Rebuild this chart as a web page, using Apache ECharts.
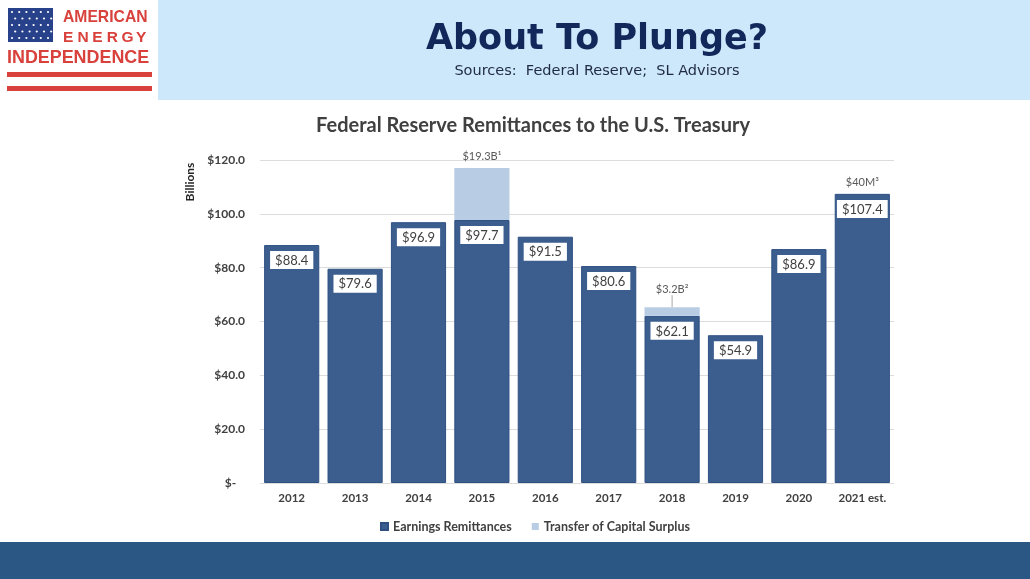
<!DOCTYPE html>
<html>
<head>
<meta charset="utf-8">
<script src="https://cdn.jsdelivr.net/npm/echarts@6/dist/echarts.min.js"></script>
<style>
html,body{margin:0;padding:0;background:#fff;}
#chart{width:1030px;height:579px;}
</style>
</head>
<body>
<div id="chart"></div>
<script>
const categories = ['2012','2013','2014','2015','2016','2017','2018','2019','2020','2021 est.'];
const earnings = [88.4, 79.6, 96.9, 97.7, 91.5, 80.6, 62.1, 54.9, 86.9, 107.4];
const transfer = [null, null, null, 19.3, null, null, 3.2, null, null, 0.04];
const transferLabels = ['', '', '', '$19.3B\u00B9', '', '', '$3.2B\u00B2', '', '', '$40M\u00B3'];
const yTicks = [0, 20, 40, 60, 80, 100, 120];

const chart = echarts.init(document.getElementById('chart'), null, {renderer: 'canvas'});

const red = '#d8413c';
const graphics = [
  {type: 'rect', shape: {x: 158, y: 0, width: 872, height: 100}, style: {fill: '#cde7fb'}, silent: true},
  {type: 'rect', shape: {x: 0, y: 542, width: 1030, height: 37}, style: {fill: '#2b5784'}, silent: true},
  {type: 'rect', shape: {x: 8, y: 8, width: 45, height: 34}, style: {fill: '#27418a'}, silent: true},
  {type: 'rect', shape: {x: 7, y: 72, width: 145, height: 5}, style: {fill: red}, silent: true},
  {type: 'rect', shape: {x: 7, y: 86, width: 145, height: 5}, style: {fill: red}, silent: true},
  {type: 'text', x: 63, y: 18, style: {text: 'AMERICAN', fill: red, font: 'bold 15.7px "Liberation Sans"', textAlign: 'left', textVerticalAlign: 'middle'}, silent: true},
  {type: 'text', x: 7, y: 58, style: {text: 'INDEPENDENCE', fill: red, font: 'bold 17.9px "Liberation Sans"', textAlign: 'left', textVerticalAlign: 'middle'}, silent: true},
  {type: 'text', x: 597, y: 40, style: {text: 'About To Plunge?', fill: '#13285a', font: 'bold 35px "DejaVu Sans"', textAlign: 'center', textVerticalAlign: 'middle'}, silent: true},
  {type: 'text', x: 597, y: 71, style: {text: 'Sources:  Federal Reserve;  SL Advisors', fill: '#1f2a44', font: '14.5px "DejaVu Sans"', textAlign: 'center', textVerticalAlign: 'middle'}, silent: true},
  {type: 'text', x: 533, y: 126, style: {text: 'Federal Reserve Remittances to the U.S. Treasury', fill: '#404040', font: 'bold 20px Lato', textAlign: 'center', textVerticalAlign: 'middle'}, silent: true},
  {type: 'text', x: 190, y: 182, rotation: Math.PI / 2, style: {text: 'Billions', fill: '#262626', font: 'bold 12px Lato', textAlign: 'center', textVerticalAlign: 'middle'}, silent: true}
];
// logo letters of "ENERGY", spaced out (decoration)
'ENERGY'.split('').forEach((ch, i) => {
  graphics.push({type: 'text', x: 63 + i * 14.6, y: 38, style: {text: ch, fill: red, font: 'bold 15.5px "Liberation Sans"', textAlign: 'left', textVerticalAlign: 'middle'}, silent: true});
});
// flag stars (decoration)
for (let r = 0; r < 5; r++) {
  for (let c = 0; c < 6; c++) {
    graphics.push({type: 'circle', shape: {cx: 12 + c * 7.2 + (r % 2) * 3.2, cy: 12 + r * 6.5, r: 1.1}, style: {fill: '#ffffff'}, silent: true});
  }
}

const transferData = transfer.map((v, i) => (i === 6 ? {value: v, labelLine: {show: true}} : v));

const option = {
  backgroundColor: '#ffffff',
  animation: false,
  graphic: graphics,
  grid: {left: 260, right: 136, top: 160, bottom: 96, containLabel: false},
  legend: {
    data: ['Earnings Remittances', 'Transfer of Capital Surplus'],
    left: 375, top: 515,
    itemWidth: 7, itemHeight: 7, itemGap: 20,
    icon: 'rect',
    textStyle: {fontFamily: 'Lato', fontSize: 12.5, fontWeight: 'bold', color: '#404040'}
  },
  xAxis: {
    type: 'category',
    data: categories,
    axisLine: {show: false},
    axisTick: {show: false},
    axisLabel: {interval: 0, fontFamily: 'Lato', fontSize: 11.5, fontWeight: 'bold', color: '#404040', margin: 9}
  },
  yAxis: {
    type: 'value',
    min: 0, max: 120, interval: 20,
    axisLine: {show: false},
    axisTick: {show: false},
    splitLine: {lineStyle: {color: '#dcdcdc', width: 1}},
    axisLabel: {
      fontFamily: 'Lato', fontSize: 12, fontWeight: 'bold', color: '#404040', margin: 15,
      formatter: v => yTicks.indexOf(v) === 0 ? '$-   ' : '$' + v.toFixed(1)
    }
  },
  series: [
    {
      name: 'Earnings Remittances',
      type: 'bar',
      stack: 'total',
      barCategoryGap: '13%',
      data: earnings,
      itemStyle: {color: '#3b5e8f', borderColor: '#2f5083', borderWidth: 1},
      label: {
        show: true,
        position: 'insideTop',
        distance: 6,
        formatter: p => '$' + p.value.toFixed(1),
        backgroundColor: '#ffffff',
        padding: [3, 5, 2, 5],
        color: '#404040',
        fontFamily: 'Lato',
        fontSize: 13
      }
    },
    {
      name: 'Transfer of Capital Surplus',
      type: 'bar',
      stack: 'total',
      data: transferData,
      itemStyle: {color: '#b8cce4'},
      label: {
        show: true,
        position: 'top',
        distance: 6,
        formatter: p => transferLabels[p.dataIndex],
        color: '#595959',
        fontFamily: 'Lato',
        fontSize: 11
      },
      labelLayout: p => (p.dataIndex === 6 ? {dy: -6} : {}),
      labelLine: {show: false, lineStyle: {color: '#a6a6a6', width: 1}}
    }
  ]
};
chart.setOption(option);
</script>
</body>
</html>
